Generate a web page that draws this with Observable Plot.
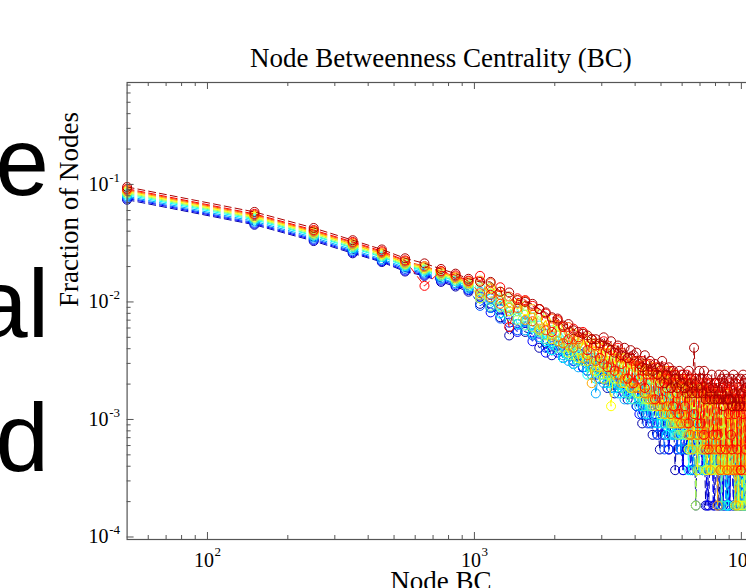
<!DOCTYPE html>
<html><head><meta charset="utf-8">
<script src="https://cdn.jsdelivr.net/npm/d3@7"></script>
<script src="https://cdn.jsdelivr.net/npm/@observablehq/plot@0.6"></script>
<style>
html,body{margin:0;padding:0;background:#fff;overflow:hidden;width:746px;height:588px}
#wrap{position:relative;width:746px;height:588px;overflow:hidden;background:#fff}
#chart{position:absolute;left:0;top:0;width:774px}
#chart svg{max-width:none !important}
#slide{position:absolute;left:0;top:0;pointer-events:none}
</style></head><body>
<div id="wrap"><div id="chart"></div>
<svg id="slide" width="746" height="588" font-family="'Liberation Sans', Arial, sans-serif" font-size="96" fill="#000">
  <text x="49" y="195" text-anchor="end">e</text>
  <text x="49" y="337" text-anchor="end">al</text>
  <text x="49" y="471" text-anchor="end">d</text>
</svg>
</div>
<script>
// ---- data (node counts per BC bin; fraction = count / nodeTotal) ----
const titleText = "Node Betweenness Centrality (BC)";
const xLabelText = "Node BC";
const yLabelText = "Fraction of Nodes";
const nodeTotal = 5400;
const binCenters = [50,150,250,350,450,550,650,750,850,950,
1050,1150,1250,1350,1450,1550,1650,1750,1850,1950,
2050,2150,2250,2350,2450,2550,2650,2750,2850,2950,
3050,3150,3250,3350,3450,3550,3650,3750,3850,3950,
4050,4150,4250,4350,4450,4550,4650,4750,4850,4950,
5050,5150,5250,5350,5450,5550,5650,5750,5850,5950,
6050,6150,6250,6350,6450,6550,6650,6750,6850,6950,
7050,7150,7250,7350,7450,7550,7650,7750,7850,7950,
8050,8150,8250,8350,8450,8550,8650,8750,8850,8950,
9050,9150,9250,9350,9450,9550,9650,9750,9850,9950,10050,10150,10250,10350,10450];

const seriesColors = ["#0000AA","#0000FF","#0055FF","#00AAFF","#00FFFF","#55FFAA","#AAFF55","#FFFF00","#FFAA00","#FF5500","#FF0000","#AA0000"];

const counts01 = [400,245,178,140,118,98,90,80,73,66, 52,48,40,28,35,30,29,22,24,19, 23,18,21,16,19,15,17,13,15,12, 14,10,13,9,12,10,11,8,10,9, 7,10,5,9,6,8,4,7,5,3, 7,4,6,3,5,7,2,6,4,5, 2,6,3,5,4,2,5,1,4,3, 5,2,4,1,3,1,4,2,3,1, 4,2,1,3,2,1,4,2,1,3, 1,3,2,1,4,1,2,3,1,1,2,3,1,2,1];
const counts02 = [410,250,182,143,120,100,92,82,75,68, 60,44,47,36,30,36,25,29,20,24, 20,18,22,17,20,15,14,17,13,15, 12,14,10,13,10,12,9,12,9,8, 11,6,9,7,10,5,8,6,4,9, 4,8,5,3,8,4,7,3,7,3, 2,7,3,5,2,7,3,4,2,6, 3,2,5,3,1,4,2,4,1,5, 3,1,4,2,3,1,4,1,2,3, 1,3,4,1,3,2,1,3,1,1,3,1,1,2,1];
const counts03 = [418,255,186,146,122,103,94,84,77,69, 50,58,39,45,31,37,28,31,22,27, 21,18,23,17,20,15,18,13,17,12, 15,11,14,11,10,12,11,9,11,9, 7,11,6,9,5,10,7,8,4,8, 6,3,9,5,7,4,8,3,6,3, 7,3,5,4,6,2,5,5,2,4, 5,3,4,2,4,6,2,5,3,4, 2,5,3,1,5,2,2,4,3,1, 4,2,5,2,1,3,2,4,1,2,3,1,4,2,3];
const counts04 = [428,262,191,150,125,106,96,86,78,71, 66,48,55,38,45,31,35,27,29,21, 25,19,17,22,15,19,14,18,9,16, 11,16,10,14,9,13,8,12,9,12, 9,7,11,6,10,8,5,10,7,6, 9,5,7,4,8,6,4,7,5,3, 6,4,7,3,5,5,2,6,4,5, 3,6,2,5,4,2,6,3,5,2, 4,2,5,2,3,5,2,1,4,2, 3,5,2,4,1,2,4,2,3,1,5,2,2,3,1];
const counts05 = [440,270,197,155,130,109,99,89,81,73, 58,63,43,49,35,42,29,34,25,21, 28,18,25,16,21,18,13,19,12,15, 17,11,15,10,14,9,13,11,8,12, 13,8,7,11,6,10,8,12,5,7, 5,9,4,8,6,4,8,5,7,6, 4,7,5,2,8,5,6,3,5,7, 3,6,2,5,4,6,2,6,3,2, 6,3,2,5,2,4,3,5,1,1, 4,2,5,2,4,3,1,5,2,2,4,1,3,2,2];
const counts06 = [450,276,200,158,132,111,101,90,82,74, 72,50,58,41,47,34,40,30,26,31, 22,28,19,24,17,22,20,13,18,15, 13,17,11,15,14,10,15,9,13,8, 11,14,8,7,12,7,10,8,12,6, 10,7,5,10,5,9,8,4,10,5, 8,4,9,5,3,8,4,7,3,2, 7,3,5,8,2,6,3,7,2,5, 3,6,2,4,1,6,2,5,4,2, 2,5,2,4,3,6,1,2,5,2,4,3,1,5,1];
const counts07 = [459,281,205,162,135,113,103,92,84,76, 62,72,49,58,38,50,33,42,28,34, 33,22,30,19,27,17,25,15,23,13, 22,13,19,12,18,14,11,17,10,15, 9,15,13,8,14,12,7,13,11,6, 13,6,10,12,5,9,11,5,4,10, 5,11,4,9,8,3,10,1,4,8, 3,9,6,2,8,4,7,2,8,2, 7,2,8,4,2,7,2,6,3,7, 2,6,3,7,1,5,2,2,1,7,3,6,2,1,5];
const counts08 = [468,286,209,165,138,115,105,94,86,78, 58,70,66,45,52,46,42,31,38,26, 34,24,20,29,18,26,17,24,14,22, 12,20,7,18,12,18,11,16,10,16, 15,9,15,14,8,14,13,7,13,12, 7,13,6,11,12,5,11,9,5,12, 10,5,11,3,10,8,4,10,2,9, 4,10,3,9,2,8,9,2,8,3, 9,3,2,8,5,2,8,2,9,2, 7,8,2,2,8,3,7,1,5,8,1,2,8,2,7];
const counts09 = [478,292,213,168,140,117,107,96,87,79, 82,59,62,48,56,38,47,32,37,28, 25,33,23,26,24,18,27,11,24,15, 23,14,21,13,20,11,18,12,16,10, 17,10,13,16,9,8,15,8,7,14, 12,6,14,7,6,13,5,11,6,5, 11,5,10,4,12,3,10,9,4,10, 9,3,10,4,3,9,2,8,9,3, 8,1,9,3,8,2,9,3,2,8, 9,2,6,8,2,1,8,2,7,9,2,6,8,2,6];
const counts10 = [487,298,217,172,143,120,109,98,89,81, 64,78,52,60,48,55,37,47,31,39, 37,24,33,22,26,29,19,26,17,23, 16,23,15,21,13,20,12,18,11,17, 10,17,14,9,16,13,8,15,13,7, 14,12,7,14,6,11,13,6,12,5, 10,12,5,12,4,11,9,12,4,9, 11,4,9,3,11,8,10,3,8,11, 3,10,8,2,10,7,8,10,2,8, 8,3,10,2,8,7,2,8,10,2,7,8,2,10,3];
const counts11 = [496,303,221,175,146,122,74,99,91,82, 90,62,72,33,58,56,50,47,43,30, 38,33,26,32,27,30,21,26,23,18, 25,15,21,14,22,16,19,12,18,11, 17,12,17,10,13,16,13,8,15,11, 8,15,10,12,14,7,13,9,6,13, 12,7,13,5,12,10,6,12,5,10, 5,12,4,11,9,3,11,9,4,11, 9,4,11,3,10,8,11,3,9,6, 11,4,3,9,6,11,3,9,8,2,9,6,11,3,8];
const counts12 = [514,315,230,181,151,127,115,103,94,85, 80,80,66,65,56,54,52,47,44,40, 39,34,35,31,30,29,28,26,26,24, 27,22,25,20,23,19,22,18,21,19, 20,16,15,19,14,17,14,16,13,15, 17,11,13,15,10,14,12,10,14,11, 13,10,9,14,11,9,22,11,9,14, 12,9,14,8,12,10,8,13,10,8, 11,8,13,8,12,7,13,8,12,8, 8,12,7,13,9,7,12,8,7,12,9,13,7,10,12];

const xMajorTicks = [100, 1000, 10000];
const xMajorExponents = ["2", "3", "4"];
const xMinorTicks = [60,70,80,90,200,300,400,500,600,700,800,900,2000,3000,4000,5000,6000,7000,8000,9000];
const yMajorTicks = [0.0001, 0.001, 0.01, 0.1];
const yMajorExponents = ["-4", "-3", "-2", "-1"];
const yMinorTicks = [0.0002,0.0003,0.0004,0.0005,0.0006,0.0007,0.0008,0.0009,
  0.002,0.003,0.004,0.005,0.006,0.007,0.008,0.009,
  0.02,0.03,0.04,0.05,0.06,0.07,0.08,0.09,
  0.2,0.3,0.4,0.5,0.6,0.7];

// ---- build table ----
const allCounts = [counts01,counts02,counts03,counts04,counts05,counts06,counts07,counts08,counts09,counts10,counts11,counts12];
const seriesData = allCounts.map((arr, s) =>
  arr.map((c, i) => ({series: s, x: binCenters[i], v: c / nodeTotal})).filter(d => d.x !== undefined));

const W = 774, H = 588, mL = 126.6, mR = 20, mT = 82, mB = 49;
const plotH = H - mT - mB, plotW = W - mL - mR;
const axisColor = "#555";
const serif = "'Liberation Serif', 'Times New Roman', serif";

const marks = [];
seriesData.forEach((rows, s) => {
  marks.push(Plot.line(rows, {x: "x", y: "v", stroke: seriesColors[s], strokeWidth: 1, strokeDasharray: "7,4"}));
  marks.push(Plot.dot(rows, {x: "x", y: "v", stroke: seriesColors[s], r: 4.5, strokeWidth: 1, fill: "none"}));
});

// ticks (inward, on all four sides)
marks.push(Plot.tickX(xMajorTicks, {x: d => d, stroke: axisColor, insetTop: plotH - 7}));
marks.push(Plot.tickX(xMajorTicks, {x: d => d, stroke: axisColor, insetBottom: plotH - 7}));
marks.push(Plot.tickX(xMinorTicks, {x: d => d, stroke: axisColor, insetTop: plotH - 4}));
marks.push(Plot.tickX(xMinorTicks, {x: d => d, stroke: axisColor, insetBottom: plotH - 4}));
marks.push(Plot.tickY(yMajorTicks, {y: d => d, stroke: axisColor, insetRight: plotW - 7}));
marks.push(Plot.tickY(yMajorTicks, {y: d => d, stroke: axisColor, insetLeft: plotW - 7}));
marks.push(Plot.tickY(yMinorTicks, {y: d => d, stroke: axisColor, insetRight: plotW - 4}));
marks.push(Plot.tickY(yMinorTicks, {y: d => d, stroke: axisColor, insetLeft: plotW - 4}));
marks.push(Plot.frame({stroke: axisColor, strokeWidth: 1.2}));

// tick labels 10^n
marks.push(Plot.text(xMajorTicks, {x: d => d, frameAnchor: "bottom", text: () => "10", textAnchor: "middle", lineAnchor: "middle", dx: -3.5, dy: 20.6, fontSize: 20, fontFamily: serif, fill: "#000"}));
marks.push(Plot.text(xMajorTicks, {x: d => d, frameAnchor: "bottom", text: (d, i) => xMajorExponents[i], textAnchor: "start", lineAnchor: "middle", dx: 7, dy: 12.5, fontSize: 13, fontFamily: serif, fill: "#000"}));
marks.push(Plot.text(yMajorTicks, {y: d => d, frameAnchor: "left", text: () => "10", textAnchor: "end", lineAnchor: "middle", dx: -18.5, dy: 0, fontSize: 20, fontFamily: serif, fill: "#000"}));
marks.push(Plot.text(yMajorTicks, {y: d => d, frameAnchor: "left", text: (d, i) => yMajorExponents[i], textAnchor: "end", lineAnchor: "middle", dx: -7, dy: -7, fontSize: 13, fontFamily: serif, fill: "#000"}));

// title and axis labels
marks.push(Plot.text([titleText], {frameAnchor: "top", lineAnchor: "middle", dy: -24.6, fontSize: 27, fontFamily: serif, fill: "#000"}));
marks.push(Plot.text([xLabelText], {frameAnchor: "bottom", lineAnchor: "middle", dy: 42, fontSize: 27, fontFamily: serif, fill: "#000"}));
marks.push(Plot.text([yLabelText], {frameAnchor: "left", rotate: -90, lineAnchor: "middle", dx: -58, dy: -4, fontSize: 27, fontFamily: serif, fill: "#000"}));

const chart = Plot.plot({
  width: W, height: H,
  marginLeft: mL, marginRight: mR, marginTop: mT, marginBottom: mB,
  style: {background: "#fff", overflow: "visible", maxWidth: "none"},
  x: {type: "log", domain: [50, 11200], axis: null},
  y: {type: "log", domain: [9.52e-5, 0.7366], axis: null},
  marks
});
document.getElementById("chart").appendChild(chart);
</script>
</body></html>
